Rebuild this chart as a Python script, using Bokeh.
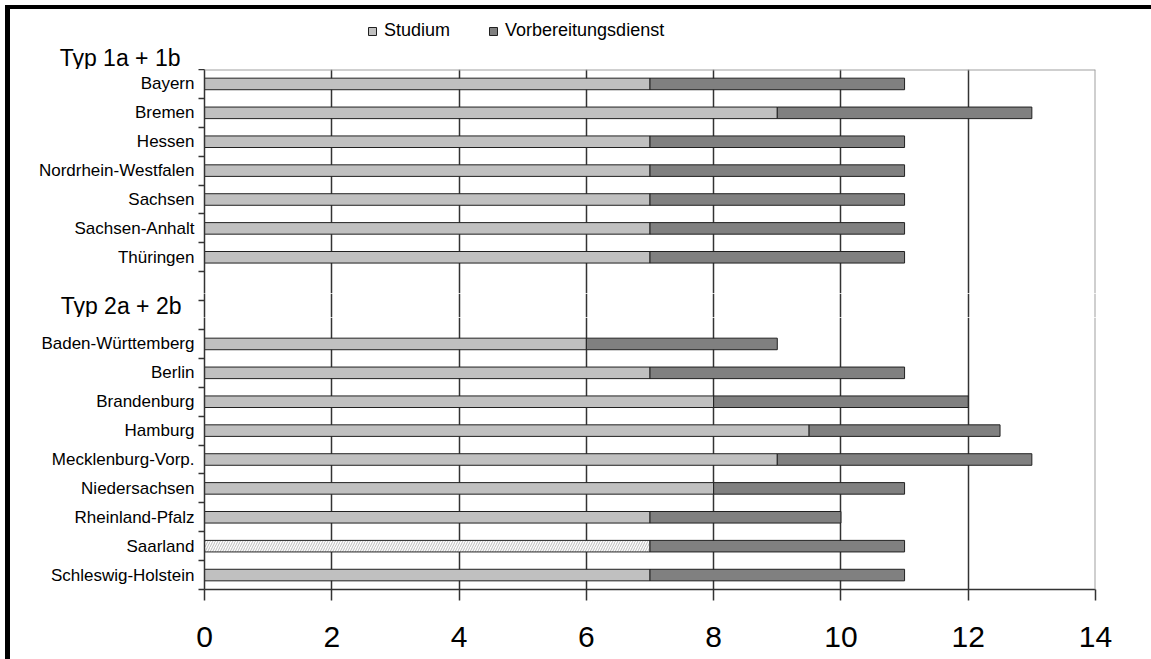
from bokeh.plotting import figure
from bokeh.layouts import column
from bokeh.models import (Range1d, FixedTicker, Legend, LegendItem, Span,
                          ColumnDataSource)
from bokeh.embed import file_html
from bokeh.resources import INLINE

# Dauer der Lehrerausbildung in Halbjahren: Studium + Vorbereitungsdienst
group_labels = ["Typ 1a + 1b", "Typ 2a + 2b"]

laender_typ1 = ["Bayern", "Bremen", "Hessen", "Nordrhein-Westfalen", "Sachsen",
                "Sachsen-Anhalt", "Thüringen"]
studium_typ1 = [7, 9, 7, 7, 7, 7, 7]
vorbereitung_typ1 = [4, 4, 4, 4, 4, 4, 4]

laender_typ2 = ["Baden-Württemberg", "Berlin", "Brandenburg", "Hamburg",
                "Mecklenburg-Vorp.", "Niedersachsen", "Rheinland-Pfalz", "Saarland",
                "Schleswig-Holstein"]
studium_typ2 = [6, 7, 8, 9.5, 9, 8, 7, 7, 7]
vorbereitung_typ2 = [3, 4, 4, 3, 4, 3, 3, 4, 4]

# Länder, deren Studienanteil schraffiert dargestellt wird
schraffiert = ["Saarland"]

x_ticks = [0, 2, 4, 6, 8, 10, 12, 14]

FONT = "Liberation Sans"
GRID = "#333333"
RAND = "#a0a0a0"
FARBE_STUDIUM = "#c0c0c0"
FARBE_VORB = "#808080"
KONTUR = "#202020"

# Zeilenpositionen: zwei Leerzeilen zwischen den Gruppen
gap = 2
pos_typ1 = list(range(len(laender_typ1)))
pos_typ2 = [len(laender_typ1) + gap + i for i in range(len(laender_typ2))]
n_rows = len(laender_typ1) + gap + len(laender_typ2)
grenzen = [i - 0.5 for i in range(n_rows + 1)]

# Aufbau von oben nach unten, alle Teile mit gemeinsamer x-Achse:
#   Legende | Überschrift Gruppe 1 | Gruppe 1 | Überschrift Gruppe 2 | Gruppe 2 + x-Achse
W = 1141
LEFT, RIGHT = 194, 56
H_LEGENDE, H_KOPF1 = 36, 24
FRAME1, FRAME_MITTE, FRAME2, BOTTOM2 = 224, 24, 272, 70
row_px = (FRAME1 + FRAME_MITTE + FRAME2) / n_rows
s1 = -0.5 + FRAME1 / row_px
s2 = s1 + FRAME_MITTE / row_px
oben = -0.5 - H_KOPF1 / row_px

x_range = Range1d(x_ticks[0], x_ticks[-1])


def make_part(height, y_range, bottom=0, xaxis=False, yaxis=True, rahmen=True):
    fig = figure(width=W, height=height, title=None,
                 x_range=x_range, y_range=y_range,
                 x_axis_location="below" if xaxis else None,
                 y_axis_location="left" if yaxis else None,
                 output_backend="svg", toolbar_location=None,
                 min_border_left=LEFT, min_border_right=RIGHT,
                 min_border_top=0, min_border_bottom=bottom,
                 background_fill_color="white", border_fill_color="white")
    fig.outline_line_color = None
    fig.ygrid.visible = False
    if rahmen:
        fig.xgrid.ticker = FixedTicker(ticks=x_ticks[1:-1])
        fig.xgrid.grid_line_color = GRID
        fig.xgrid.grid_line_width = 1.5
        # rechter Rand der Zeichenfläche
        fig.add_layout(Span(location=x_ticks[-1], dimension="height",
                            line_color=RAND, line_width=2))
    else:
        fig.xgrid.visible = False
    return fig


def style_yaxis(fig, positions, names, linie=True):
    ya = fig.yaxis[0]
    ya.ticker = FixedTicker(ticks=positions, minor_ticks=grenzen if linie else [])
    ya.major_label_overrides = {p_: l for p_, l in zip(positions, names)}
    ya.major_tick_out = 0
    ya.major_tick_in = 0
    ya.minor_tick_out = 6
    ya.minor_tick_in = 0
    ya.minor_tick_line_color = GRID if linie else None
    ya.minor_tick_line_width = 1.5
    ya.axis_line_color = GRID if linie else None
    ya.axis_line_width = 1.5
    ya.major_label_text_font = FONT
    ya.major_label_text_font_size = "17px"
    ya.major_label_text_color = "black"
    ya.major_label_standoff = 4


def group_title(fig, text, standoff):
    ya = fig.yaxis[0]
    ya.axis_label = text
    ya.axis_label_orientation = "horizontal"
    ya.axis_label_standoff = standoff
    ya.axis_label_text_font = FONT
    ya.axis_label_text_font_size = "23px"
    ya.axis_label_text_font_style = "normal"
    ya.axis_label_text_color = "black"


def draw_bars(fig, positions, stud, vorb, names):
    hatched = [n in schraffiert for n in names]
    solid = ColumnDataSource(dict(
        y=[p_ for p_, h in zip(positions, hatched) if not h],
        left=[0 for h in hatched if not h],
        right=[s for s, h in zip(stud, hatched) if not h]))
    schraff = ColumnDataSource(dict(
        y=[p_ for p_, h in zip(positions, hatched) if h],
        left=[0 for h in hatched if h],
        right=[s for s, h in zip(stud, hatched) if h]))
    rest = ColumnDataSource(dict(
        y=positions, left=stud, right=[s + v for s, v in zip(stud, vorb)]))
    bar_h = 0.4
    r_s = fig.hbar(y="y", left="left", right="right", height=bar_h, source=solid,
                   fill_color=FARBE_STUDIUM, line_color=KONTUR, line_width=1)
    fig.hbar(y="y", left="left", right="right", height=bar_h, source=schraff,
             fill_color="white", line_color=KONTUR, line_width=1,
             hatch_pattern="/", hatch_color="#a8a8a8", hatch_scale=5, hatch_weight=0.8)
    r_v = fig.hbar(y="y", left="left", right="right", height=bar_h, source=rest,
                   fill_color=FARBE_VORB, line_color=KONTUR, line_width=1)
    return r_s, r_v


# --- Legende (Balken liegen weit unterhalb des sichtbaren Bereichs) ---------
p_leg = make_part(H_LEGENDE, Range1d(oben, oben - H_LEGENDE / row_px),
                  yaxis=False, rahmen=False)
r_stud, r_vorb = draw_bars(p_leg, pos_typ1, studium_typ1, vorbereitung_typ1, laender_typ1)
legend = Legend(items=[LegendItem(label="Studium", renderers=[r_stud]),
                       LegendItem(label="Vorbereitungsdienst", renderers=[r_vorb])],
                orientation="horizontal", location=(163, 4),
                padding=0, margin=0, spacing=38,
                glyph_width=10, glyph_height=10, label_standoff=7,
                label_text_font=FONT, label_text_font_size="18px",
                label_text_color="black",
                background_fill_alpha=0, border_line_alpha=0)
p_leg.add_layout(legend)

# --- Überschrift Typ 1a + 1b ------------------------------------------------
p_kopf = make_part(H_KOPF1, Range1d(-0.5, oben), rahmen=False)
style_yaxis(p_kopf, [], [], linie=False)
group_title(p_kopf, group_labels[0], 24)

# --- Gruppe Typ 1a + 1b -----------------------------------------------------
p1 = make_part(FRAME1, Range1d(s1, -0.5))
draw_bars(p1, pos_typ1, studium_typ1, vorbereitung_typ1, laender_typ1)
style_yaxis(p1, pos_typ1, laender_typ1)
p1.add_layout(Span(location=-0.5, dimension="width", line_color=RAND, line_width=2))

# --- Leerzeilen mit Überschrift Typ 2a + 2b --------------------------------
p_mitte = make_part(FRAME_MITTE, Range1d(s2, s1))
style_yaxis(p_mitte, [], [])
group_title(p_mitte, group_labels[1], 17)

# --- Gruppe Typ 2a + 2b mit x-Achse ----------------------------------------
p2 = make_part(FRAME2 + BOTTOM2, Range1d(n_rows - 0.5, s2), bottom=BOTTOM2, xaxis=True)
draw_bars(p2, pos_typ2, studium_typ2, vorbereitung_typ2, laender_typ2)
style_yaxis(p2, pos_typ2, laender_typ2)

xa = p2.xaxis[0]
xa.ticker = FixedTicker(ticks=x_ticks)
xa.major_tick_out = 11
xa.major_tick_in = 0
xa.minor_tick_out = 0
xa.axis_line_color = GRID
xa.axis_line_width = 1.5
xa.major_tick_line_color = GRID
xa.major_tick_line_width = 1.5
xa.major_label_text_font = FONT
xa.major_label_text_font_size = "30px"
xa.major_label_text_color = "black"
xa.major_label_standoff = 26

layout = column(p_leg, p_kopf, p1, p_mitte, p2, spacing=0,
                styles={"margin-left": "5px", "margin-top": "5px",
                        "border-left": "5px solid black", "border-top": "4px solid black"})

open("out.html", "w").write(file_html(layout, INLINE))
